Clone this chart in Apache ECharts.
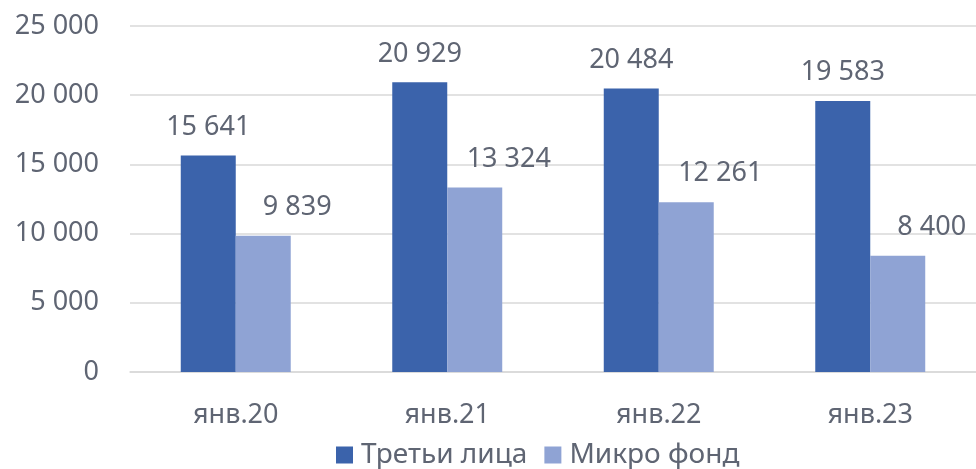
<!DOCTYPE html>
<html><head><meta charset="utf-8">
<script src="https://cdn.jsdelivr.net/npm/echarts@6/dist/echarts.min.js"></script>
<style>html,body{margin:0;padding:0;background:#fff}#c{width:976px;height:469px}</style>
</head><body><div id="c"></div>
<script>
var categories = ['янв.20', 'янв.21', 'янв.22', 'янв.23'];
var seriesNames = ['Третьи лица', 'Микро фонд'];
var thirdParties = [15641, 20929, 20484, 19583];
var microFund = [9839, 13324, 12261, 8400];
var yTicks = [0, 5000, 10000, 15000, 20000, 25000];

function fmt(v) { return String(v).replace(/\B(?=(\d{3})+(?!\d))/g, ' '); }
var txt = '#5f6573';
var font = '"Noto Sans", "Open Sans", sans-serif';
var FS = 27;
var chart = echarts.init(document.getElementById('c'));
chart.setOption({
  animation: false,
  textStyle: { fontFamily: font },
  grid: { left: 130, right: -2, top: 26, bottom: 97, containLabel: false },
  legend: {
    data: seriesNames, bottom: 0, left: 336, itemWidth: 17, itemHeight: 17, itemGap: 17,
    icon: 'rect', textStyle: { fontSize: 28, color: txt, fontFamily: font, padding: [0, 0, 0, 3] }, padding: [0, 0, 0, 0]
  },
  xAxis: {
    type: 'category', data: categories,
    axisLine: { lineStyle: { color: '#d9d9d9', width: 1.5 } }, axisTick: { show: false },
    axisLabel: { fontSize: FS, color: txt, margin: 30, fontFamily: font }
  },
  yAxis: {
    type: 'value', min: yTicks[0], max: yTicks[yTicks.length - 1], interval: 5000,
    axisLine: { show: false }, axisTick: { show: false },
    splitLine: { lineStyle: { color: '#d9d9d9', width: 1.5 } },
    axisLabel: { fontSize: FS, color: txt, margin: 31, fontFamily: font, formatter: fmt }
  },
  series: [
    { name: seriesNames[0], type: 'bar', data: thirdParties, barGap: '0%', barCategoryGap: '48%',
      itemStyle: { color: '#3b63ab' },
      label: { show: true, position: 'top', distance: 15, fontSize: FS, color: txt, fontFamily: font, formatter: function (p) { return fmt(p.value); } } },
    { name: seriesNames[1], type: 'bar', data: microFund, barGap: '0%', barCategoryGap: '48%',
      itemStyle: { color: '#8fa3d4' },
      label: { show: true, position: 'top', distance: 15, offset: [34, 0], fontSize: FS, color: txt, fontFamily: font, formatter: function (p) { return fmt(p.value); } } }
  ]
});
</script></body></html>
